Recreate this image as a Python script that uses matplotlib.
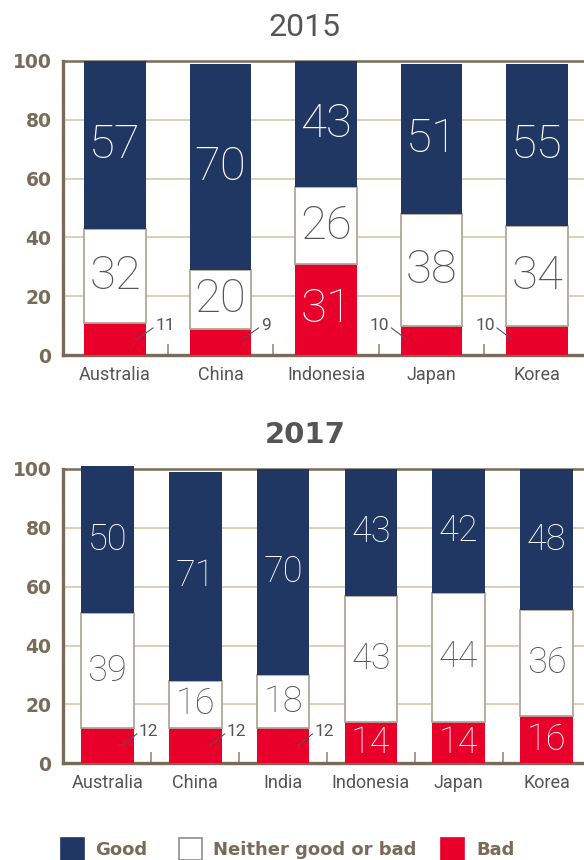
import numpy as np
import matplotlib
matplotlib.use('Agg')
import matplotlib.pyplot as plt
from matplotlib.patches import Rectangle

# data
cats_2015 = ['Australia', 'China', 'Indonesia', 'Japan', 'Korea']
good_2015 = [57, 70, 43, 51, 55]
neither_2015 = [32, 20, 26, 38, 34]
bad_2015 = [11, 9, 31, 10, 10]

cats_2017 = ['Australia', 'China', 'India', 'Indonesia', 'Japan', 'Korea']
good_2017 = [50, 71, 70, 43, 42, 48]
neither_2017 = [39, 16, 18, 43, 44, 36]
bad_2017 = [12, 12, 12, 14, 14, 16]

NAVY = '#213763'
RED = '#e8002a'
EDGE = '#b3a696'
SPINE = '#7a6a58'
GRID = '#d9c6a6'
GRAY = '#555555'
THIN = 'Roboto'

fig = plt.figure(figsize=(5.84, 8.6), dpi=100)


def draw(ax, cats, good, neither, bad, width, xlim, val_size, callouts):
    x = np.arange(len(cats))
    good = np.array(good)
    neither = np.array(neither)
    bad = np.array(bad)
    ax.bar(x, bad, width, color=RED, zorder=3, clip_on=False)
    ax.bar(x, neither, width, bottom=bad, color='white', edgecolor=EDGE,
           linewidth=1.3, zorder=3)
    ax.bar(x, good, width, bottom=bad + neither, color=NAVY, zorder=3, clip_on=False)

    for i in x:
        ax.text(i, bad[i] + neither[i] + good[i] / 2, str(good[i]), ha='center', va='center',
                color='white', fontsize=val_size, family=THIN, fontweight='light', zorder=5)
        ax.text(i, bad[i] + neither[i] / 2, str(neither[i]), ha='center', va='center',
                color=GRAY, fontsize=val_size, family=THIN, fontweight='light', zorder=5)
        if i in callouts:
            (x0, y0), (x1, y1), (tx, ty), ha = callouts[i]
            ax.plot([i + x0, i + x1], [y0, y1], color=GRAY, lw=0.8, zorder=6, clip_on=False)
            ax.text(i + tx, ty, str(bad[i]), ha=ha, va='center', color=GRAY,
                    fontsize=12.5, family=THIN, zorder=6)
        else:
            ax.text(i, bad[i] / 2, str(bad[i]), ha='center', va='center',
                    color='white', fontsize=val_size, family=THIN, fontweight='light', zorder=5)

    ax.set_xlim(*xlim)
    ax.set_ylim(0, 100)
    ax.set_yticks([0, 20, 40, 60, 80, 100])
    ax.yaxis.grid(True, color=GRID, lw=1.2, zorder=0)
    ax.set_xticks(x)
    ax.set_xticklabels(cats, family=THIN, fontsize=13, color=GRAY)
    ax.set_xticks(x[:-1] + 0.5, minor=True)
    ax.tick_params(axis='x', which='major', length=0, pad=8)
    ax.tick_params(axis='x', which='minor', length=8, width=1.2, color='#9a8a7a', direction='in')
    ax.tick_params(axis='y', length=0, pad=8, labelsize=13.5, labelcolor=SPINE)
    for lab in ax.get_yticklabels():
        lab.set_fontweight('bold')
    for s in ['left', 'bottom']:
        ax.spines[s].set_color(SPINE)
        ax.spines[s].set_linewidth(2.4)
    ax.spines['top'].set_color(SPINE)
    ax.spines['top'].set_linewidth(1.8)
    ax.spines['right'].set_visible(False)


R15 = ((0.21, 5.4), (0.36, 9.2), (0.38, 10.2), 'left')
L15 = ((-0.24, 5.4), (-0.38, 9.2), (-0.40, 10.2), 'right')
R17 = ((0.165, 5.9), (0.335, 10), (0.36, 10.7), 'left')

ax1 = fig.add_axes([0.1074, 0.5872, 0.8926, 0.3419])
draw(ax1, cats_2015, good_2015, neither_2015, bad_2015, 0.58, (-0.496, 4.445), 34,
     {0: R15, 1: R15, 3: L15, 4: L15})

ax2 = fig.add_axes([0.1074, 0.1124, 0.8926, 0.3423])
draw(ax2, cats_2017, good_2017, neither_2017, bad_2017, 0.6, (-0.509, 5.426), 26,
     {0: R17, 1: R17, 2: R17})

fig.text(305 / 584, 1 - 27 / 860, '2015', ha='center', va='center', fontsize=23,
         color=GRAY, family=THIN)
fig.text(305 / 584, 1 - 435 / 860, '2017', ha='center', va='center', fontsize=21,
         color=GRAY, fontweight='bold')

# legend
legend = [('Good', NAVY, NAVY, 61, 95), ('Neither good or bad', 'white', '#8c8c8c', 179, 213),
          ('Bad', RED, RED, 441, 476)]
for name, fc, ec, sx, tx in legend:
    fig.patches.append(Rectangle((sx / 584, 0), 23 / 584, 22 / 860, transform=fig.transFigure,
                                 facecolor=fc, edgecolor=ec, lw=1.2, clip_on=False))
    fig.text(tx / 584, 1 - 850 / 860, name, ha='left', va='center', fontsize=13,
             fontweight='bold', color=SPINE)

fig.savefig('out.png', dpi=100)
